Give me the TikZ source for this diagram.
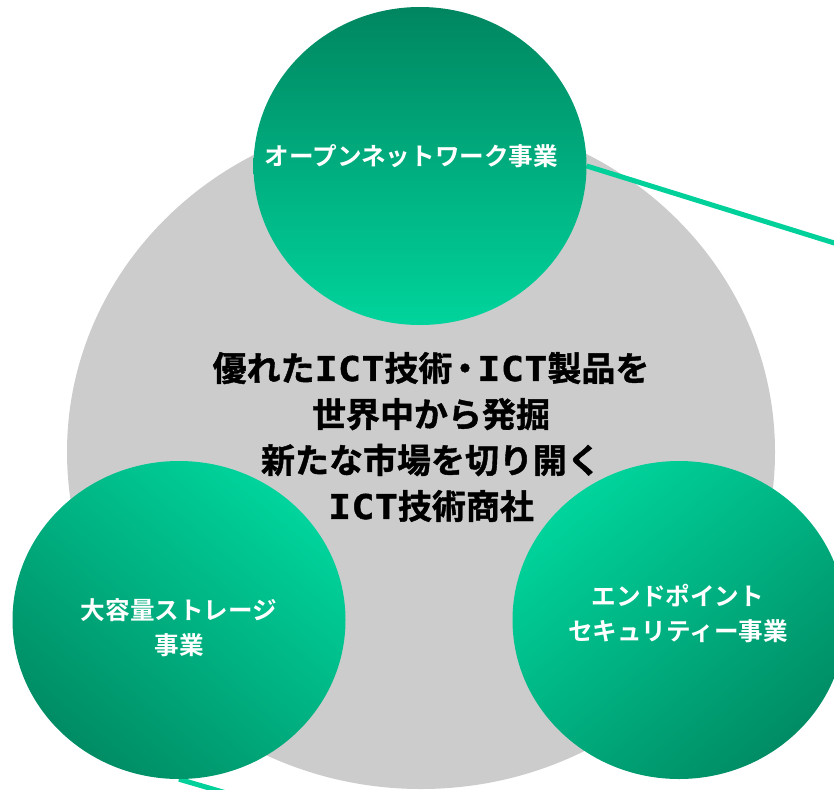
\documentclass[tikz,border=0pt]{standalone}
\usepackage{graphicx}
\usepackage{fontspec}
\setmainfont{Noto Sans CJK JP}[BoldFont={* Bold}]
\newfontfamily\jpb{Noto Sans CJK JP Bold}
\newfontfamily\jpbb{Noto Sans CJK JP Bold}[FakeBold=1.2]
\newfontfamily\ictfont{DejaVu Sans Mono Bold}[FakeBold=1.2]
\newcommand\myICT{{\ictfont\scalebox{1.12}[1]{I\kern0.5ptC\kern0.5ptT}}}
\newcommand\mydot{\makebox[25pt]{\makebox[0pt]{・}}}
\usetikzlibrary{shapes.geometric}
\definecolor{gray1}{RGB}{204,204,204}
\definecolor{gdark}{RGB}{0,134,96}
\definecolor{glight}{RGB}{0,212,156}
\definecolor{gmid}{RGB}{0,196,143}
\definecolor{gcorner}{RGB}{0,140,100}
\definecolor{gline}{RGB}{0,208,154}
\tikzset{
  bigdisc/.style={ellipse, fill=gray1, minimum width=708pt, minimum height=674pt, inner sep=0pt},
  gdisc/.style={ellipse, minimum width=333pt, minimum height=318pt, inner sep=0pt},
  wlabel/.style={text=white, font=\jpb\fontsize{24.6}{35}\selectfont, align=center, inner sep=0pt},
  clabel/.style={text=black, font=\jpbb\fontsize{34}{46}\selectfont, align=center, inner sep=0pt},
  link/.style={draw=gline, line width=5pt}
}
\begin{document}
\begin{tikzpicture}[x=1pt,y=-1pt]
\useasboundingbox (0,0) rectangle (834,789);
\node[bigdisc] (core) at (421,452) {};
\node[gdisc] (top) at (420,166) {};
\node[gdisc] (left) at (179,620) {};
\node[gdisc] (right) at (679,620) {};
\coordinate (e1) at (860,251);
\coordinate (e2) at (240,797);
\draw[link] (top.east) -- (e1);
\draw[link] (left.south) -- (e2);
\path[top color=gdark, bottom color=glight] (420,166) ellipse [x radius=166.5, y radius=159];
\path[top color=glight, middle color=gmid, bottom color=gcorner, shading angle=-40] (179,620) ellipse [x radius=166.5, y radius=159];
\path[top color=glight, middle color=gmid, bottom color=gcorner, shading angle=40] (679,620) ellipse [x radius=166.5, y radius=159];
\node[wlabel] (tlab) at (411.5,156) {オープンネットワーク事業};
\node[wlabel] (llab) at (179,628) {大容量ストレージ\\事業};
\node[wlabel] (rlab) at (678,613) {エンドポイント\\セキュリティー事業};
\node[clabel] (clab) at (431,437) {優れた\myICT 技術\mydot\myICT 製品を\\世界中から発掘\\新たな市場を切り開く\\\myICT 技術商社};
\end{tikzpicture}
\end{document}
